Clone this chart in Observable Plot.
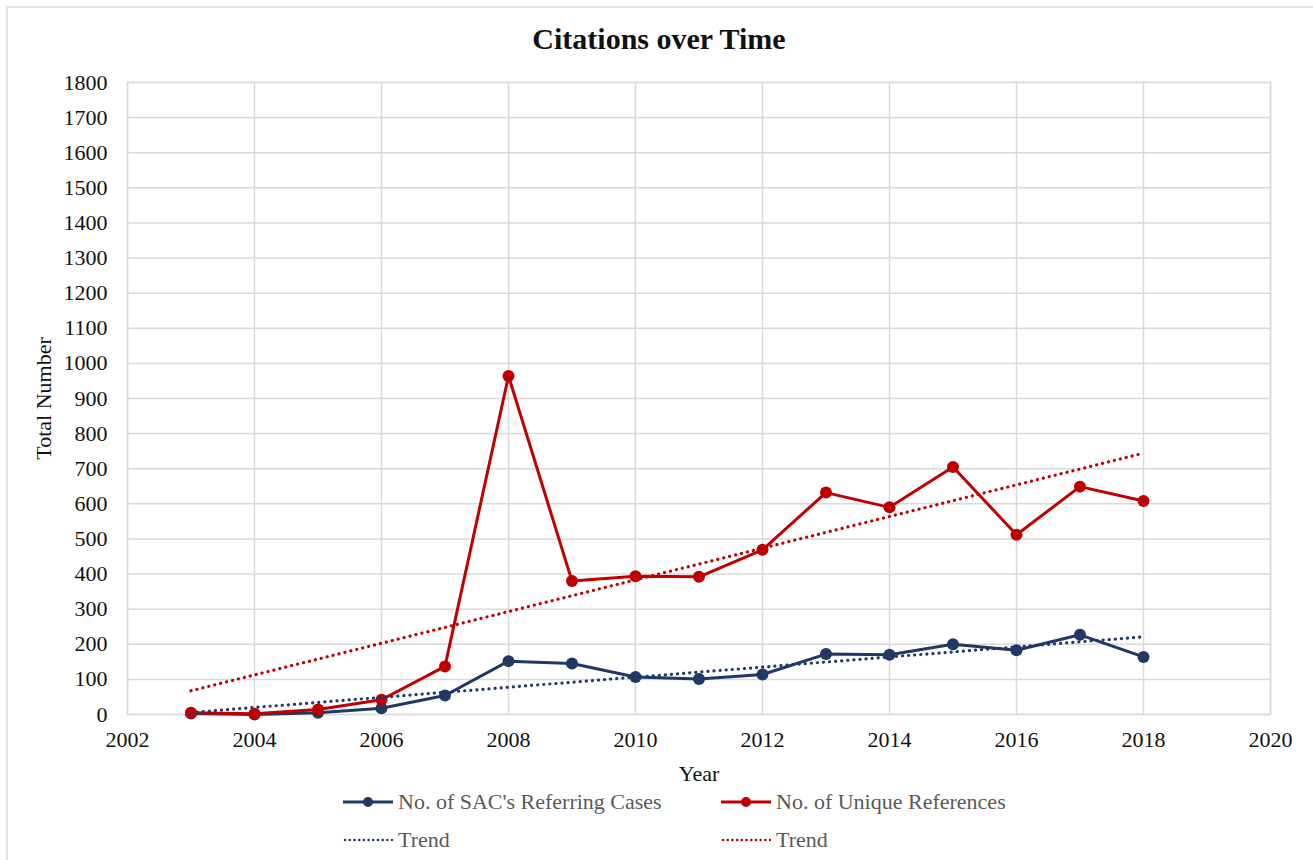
<!DOCTYPE html>
<html>
<head>
<meta charset="utf-8">
<script src="https://cdn.jsdelivr.net/npm/d3@7"></script>
<script src="https://cdn.jsdelivr.net/npm/@observablehq/plot@0.6"></script>
<style>
  html, body { margin: 0; padding: 0; background: #fff; }
  #page { position: relative; width: 1313px; height: 860px; overflow: hidden; font-family: "Liberation Serif", "DejaVu Serif", serif; }
  #frame { position: absolute; left: 6px; top: 6px; width: 1400px; height: 1000px; border-left: 2px solid #e3e3e3; border-top: 2px solid #e3e3e3; box-sizing: border-box; }
  #title { position: absolute; left: 0; width: 1318px; top: 22px; text-align: center; font-size: 30px; font-weight: bold; color: #111; }
  #chart { position: absolute; left: 0; top: 0; }
  .legend-item { position: absolute; display: flex; align-items: center; font-size: 22px; color: #595959; white-space: nowrap; }
  .legend-item svg { margin-right: 5px; }
</style>
</head>
<body>
<div id="page">
  <div id="frame"></div>
  <div id="chart"></div>
  <div id="title">Citations over Time</div>
  <div id="legend"></div>
</div>
<script>
// Yearly citation counts
const years = [2003, 2004, 2005, 2006, 2007, 2008, 2009, 2010, 2011, 2012, 2013, 2014, 2015, 2016, 2017, 2018];
const sacReferringCases = [3, 0, 5, 18, 54, 152, 145, 107, 101, 114, 172, 170, 200, 183, 227, 164];
const uniqueReferences = [5, 2, 14, 42, 137, 964, 380, 394, 392, 469, 632, 590, 705, 512, 649, 608];

const seriesNames = ["No. of SAC's Referring Cases", "No. of Unique References"];
const seriesColors = ["#203864", "#C00000"];
const trendName = "Trend";

const xTicks = [2002, 2004, 2006, 2008, 2010, 2012, 2014, 2016, 2018, 2020];
const yTicks = d3.range(0, 1801, 100);

const rows = [
  ...years.map((year, i) => ({year, value: sacReferringCases[i], series: seriesNames[0]})),
  ...years.map((year, i) => ({year, value: uniqueReferences[i], series: seriesNames[1]}))
];
const blueRows = rows.filter(d => d.series === seriesNames[0]);
const redRows = rows.filter(d => d.series === seriesNames[1]);

const grid = "#d9d9d9";
// round dots for the trend lines
const dots = "0.1,6";

const chart = Plot.plot({
  width: 1313,
  height: 800,
  marginLeft: 127,
  marginRight: 43,
  marginTop: 82,
  marginBottom: 86,
  style: {fontFamily: "'Liberation Serif', 'DejaVu Serif', serif", fontSize: "22px", color: "#111", background: "transparent"},
  x: {domain: [2002, 2020]},
  y: {domain: [0, 1800]},
  marks: [
    Plot.gridX(xTicks, {stroke: grid, strokeOpacity: 1, strokeWidth: 1.5}),
    Plot.gridY(yTicks, {stroke: grid, strokeOpacity: 1, strokeWidth: 1.5}),
    Plot.frame({stroke: grid, strokeWidth: 1.5}),
    Plot.axisX({ticks: xTicks, tickSize: 0, tickPadding: 17, tickFormat: d => String(d), label: "Year", labelAnchor: "center", labelArrow: "none", labelOffset: 66, fontSize: 22}),
    Plot.axisY({ticks: yTicks, tickSize: 0, tickPadding: 20, tickFormat: d => String(d), label: "Total Number", labelAnchor: "center", labelArrow: "none", labelOffset: 92, fontSize: 22}),
    Plot.line(blueRows, {x: "year", y: "value", stroke: seriesColors[0], strokeWidth: 3}),
    Plot.dot(blueRows, {x: "year", y: "value", fill: seriesColors[0], r: 6}),
    Plot.line(redRows, {x: "year", y: "value", stroke: seriesColors[1], strokeWidth: 3}),
    Plot.dot(redRows, {x: "year", y: "value", fill: seriesColors[1], r: 6}),
    Plot.linearRegressionY(blueRows, {x: "year", y: "value", stroke: seriesColors[0], ci: 0, strokeWidth: 3.2, strokeDasharray: dots, strokeLinecap: "round"}),
    Plot.linearRegressionY(redRows, {x: "year", y: "value", stroke: seriesColors[1], ci: 0, strokeWidth: 3.2, strokeDasharray: dots, strokeLinecap: "round"})
  ]
});
document.getElementById("chart").appendChild(chart);

// Legend: solid lines with markers for the series, dotted lines for their trends
const legend = document.getElementById("legend");
const items = [
  {label: seriesNames[0], color: seriesColors[0], dotted: false, left: 343, top: 802},
  {label: seriesNames[1], color: seriesColors[1], dotted: false, left: 721, top: 802},
  {label: trendName, color: seriesColors[0], dotted: true, left: 343, top: 840},
  {label: trendName, color: seriesColors[1], dotted: true, left: 721, top: 840}
];
for (const it of items) {
  const el = document.createElement("div");
  el.className = "legend-item";
  el.style.left = it.left + "px";
  el.style.top = (it.top - 14) + "px";
  el.style.height = "28px";
  const swatch = it.dotted
    ? `<svg width="50" height="14"><line x1="2" x2="49" y1="7" y2="7" stroke="${it.color}" stroke-width="2.5" stroke-linecap="round" stroke-dasharray="0.1,4.6"/></svg>`
    : `<svg width="50" height="14"><line x1="0" x2="50" y1="7" y2="7" stroke="${it.color}" stroke-width="3"/><circle cx="25" cy="7" r="5" fill="${it.color}"/></svg>`;
  el.innerHTML = swatch + `<span>${it.label}</span>`;
  legend.appendChild(el);
}
</script>
</body>
</html>
